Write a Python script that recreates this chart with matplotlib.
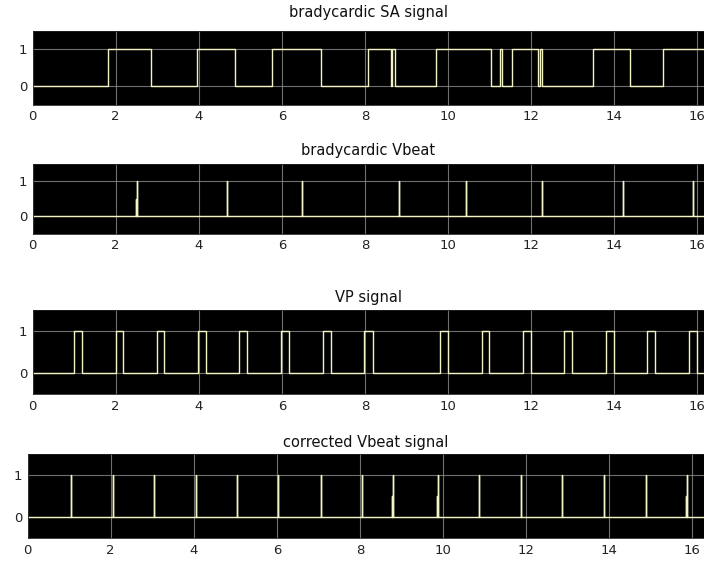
import numpy as np
import matplotlib
matplotlib.use("Agg")
import matplotlib.pyplot as plt

# ---------------- data ----------------
titles = ["bradycardic SA signal", "bradycardic Vbeat", "VP signal", "corrected Vbeat signal"]

# square-wave edges (signal starts at 0, toggles at each edge)
sa_edges = [1.81, 2.85, 3.95, 4.87, 5.77, 6.93, 8.08, 8.62, 8.66, 8.72, 9.71,
            11.03, 11.24, 11.29, 11.53, 12.17, 12.22, 12.27, 13.49, 14.38, 15.17]
vp_edges = [0.99, 1.18, 2.00, 2.18, 2.99, 3.17, 3.99, 4.17, 4.97, 5.17, 5.99, 6.18,
            6.98, 7.18, 7.98, 8.19, 9.81, 10.00, 10.81, 10.99, 11.81, 11.99, 12.80,
            12.99, 13.79, 13.99, 14.79, 14.99, 15.80, 16.00]

# impulse trains
vbeat_times = [2.48, 2.505, 4.69, 6.49, 8.82, 10.42, 12.26, 14.22, 15.89]
vbeat_vals = [0.5, 1, 1, 1, 1, 1, 1, 1, 1]
corr_times = [1.045, 2.05, 3.05, 4.05, 5.05, 6.03, 7.05, 8.05, 8.78, 8.80, 9.85, 9.87,
              10.87, 11.87, 12.87, 13.87, 14.88, 15.84, 15.86]
corr_vals = [1, 1, 1, 1, 1, 1, 1, 1, 0.5, 1, 0.5, 1, 1, 1, 1, 1, 1, 0.5, 1]

xticks = [0, 2, 4, 6, 8, 10, 12, 14, 16]
yticks = [0, 1]

# ---------------- helpers ----------------
def square(edges, t_end):
    t = [0.0]
    v = [0]
    cur = 0
    for e in edges:
        t += [e, e]
        v += [cur, 1 - cur]
        cur = 1 - cur
    t.append(t_end)
    v.append(cur)
    return np.array(t), np.array(v)

def impulses(times, vals, t_end):
    t = [0.0]
    v = [0.0]
    for ti, vi in zip(times, vals):
        t += [ti, ti, ti]
        v += [0, vi, 0]
    t.append(t_end)
    v.append(0)
    return np.array(t), np.array(v)

W, H = 704, 563
fig = plt.figure(figsize=(W / 100, H / 100), dpi=100)

# axes pixel boxes: (left px at t=0, top px, bottom px)
boxes = [
    (32.6, 30.5, 104.5),
    (32.6, 163.5, 233.5),
    (32.6, 310.0, 394.0),
    (27.6, 454.0, 538.0),
]
title_pads = [9.5, 6, 6, 5]
pxu = 41.55
line_c = "#F4F4C4"

for i, (lpx, tpx, bpx) in enumerate(boxes):
    ax = fig.add_axes([lpx / W, (H - bpx) / H, (W - lpx) / W, (bpx - tpx) / H])
    xmax = (W - lpx) / pxu
    ax.set_xlim(0, xmax)
    ax.set_ylim(-0.5, 1.5)
    ax.set_facecolor("black")
    ax.set_xticks(xticks)
    ax.set_yticks(yticks)
    ax.grid(True, color="#8c8c8c", linewidth=0.8, alpha=0.8)
    ax.set_axisbelow(True)
    ax.tick_params(length=0, labelsize=9.5, pad=4, colors="#222222")
    for s in ax.spines.values():
        s.set_color("#222222")
        s.set_linewidth(0.6)
    ax.set_title(titles[i], fontsize=10.5, pad=title_pads[i], color="#111111")
    if i == 0:
        t, v = square(sa_edges, xmax)
    elif i == 1:
        t, v = impulses(vbeat_times, vbeat_vals, xmax)
    elif i == 2:
        t, v = square(vp_edges, xmax)
    else:
        t, v = impulses(corr_times, corr_vals, xmax)
    ax.plot(t, v, color=line_c, linewidth=1.0)

fig.savefig("out.png", dpi=100)
